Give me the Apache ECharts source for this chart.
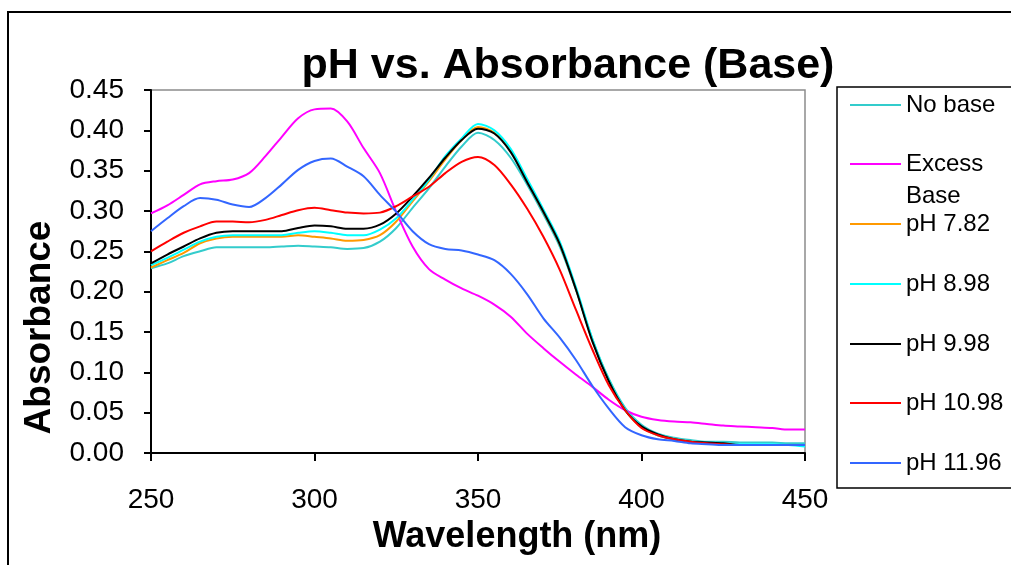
<!DOCTYPE html>
<html>
<head>
<meta charset="utf-8">
<title>pH vs. Absorbance (Base)</title>
<script src="https://cdn.jsdelivr.net/npm/echarts@6/dist/echarts.min.js"></script>
<style>
  html, body { margin: 0; padding: 0; background: #fff; }
  #chart { width: 1011px; height: 565px; }
</style>
</head>
<body>
<div id="chart"></div>
<script>
// wavelength (nm), every 5 nm
var wavelengths = [250, 255, 260, 265, 270, 275, 280, 285, 290, 295, 300, 305, 310, 315, 320, 325, 330, 335, 340, 345,
  350, 355, 360, 365, 370, 375, 380, 385, 390, 395, 400, 405, 410, 415, 420, 425, 430, 435, 440, 445, 450];

var seriesNames = ['No base', 'Excess Base', 'pH 7.82', 'pH 8.98', 'pH 9.98', 'pH 10.98', 'pH 11.96'];

var noBase = [0.229, 0.235, 0.244, 0.250, 0.255, 0.255, 0.255, 0.255, 0.256, 0.257, 0.256, 0.255, 0.253, 0.254, 0.262, 0.279, 0.304, 0.328, 0.355, 0.380,
  0.397, 0.388, 0.366, 0.333, 0.296, 0.256, 0.202, 0.141, 0.092, 0.056, 0.035, 0.024, 0.019, 0.016, 0.014, 0.014, 0.013, 0.013, 0.013, 0.012, 0.012];
var excessBase = [0.297, 0.307, 0.320, 0.333, 0.337, 0.339, 0.347, 0.368, 0.392, 0.415, 0.426, 0.427, 0.411, 0.378, 0.347, 0.299, 0.256, 0.228, 0.215, 0.204,
  0.195, 0.184, 0.169, 0.148, 0.130, 0.113, 0.097, 0.082, 0.066, 0.053, 0.045, 0.041, 0.039, 0.038, 0.036, 0.034, 0.033, 0.032, 0.031, 0.029, 0.029];
var ph782 = [0.230, 0.239, 0.248, 0.260, 0.266, 0.268, 0.268, 0.268, 0.268, 0.270, 0.268, 0.266, 0.263, 0.264, 0.270, 0.287, 0.312, 0.337, 0.364, 0.388,
  0.404, 0.397, 0.374, 0.337, 0.299, 0.259, 0.203, 0.139, 0.090, 0.053, 0.032, 0.022, 0.017, 0.014, 0.012, 0.011, 0.010, 0.010, 0.010, 0.010, 0.010];
var ph898 = [0.233, 0.242, 0.252, 0.262, 0.268, 0.270, 0.270, 0.270, 0.270, 0.273, 0.275, 0.273, 0.270, 0.270, 0.277, 0.291, 0.314, 0.339, 0.368, 0.390,
  0.408, 0.400, 0.377, 0.340, 0.302, 0.262, 0.205, 0.141, 0.091, 0.054, 0.033, 0.022, 0.017, 0.014, 0.013, 0.012, 0.011, 0.011, 0.011, 0.010, 0.008];
var ph998 = [0.235, 0.246, 0.256, 0.266, 0.273, 0.275, 0.275, 0.275, 0.275, 0.279, 0.282, 0.281, 0.278, 0.278, 0.283, 0.297, 0.318, 0.341, 0.366, 0.388,
  0.402, 0.396, 0.373, 0.336, 0.299, 0.259, 0.202, 0.138, 0.089, 0.053, 0.033, 0.023, 0.017, 0.014, 0.013, 0.012, 0.010, 0.010, 0.010, 0.010, 0.010];
var ph1098 = [0.250, 0.262, 0.273, 0.281, 0.287, 0.287, 0.286, 0.289, 0.295, 0.301, 0.304, 0.301, 0.298, 0.297, 0.298, 0.306, 0.318, 0.330, 0.347, 0.361,
  0.367, 0.357, 0.333, 0.303, 0.268, 0.227, 0.177, 0.128, 0.084, 0.053, 0.031, 0.022, 0.017, 0.014, 0.012, 0.011, 0.010, 0.010, 0.010, 0.010, 0.010];
var ph1196 = [0.275, 0.291, 0.306, 0.316, 0.314, 0.308, 0.305, 0.316, 0.333, 0.351, 0.362, 0.365, 0.355, 0.343, 0.320, 0.299, 0.275, 0.259, 0.253, 0.251,
  0.246, 0.239, 0.222, 0.197, 0.167, 0.143, 0.115, 0.083, 0.055, 0.032, 0.022, 0.017, 0.015, 0.012, 0.011, 0.010, 0.010, 0.010, 0.010, 0.010, 0.010];

var seriesValues = [noBase, excessBase, ph782, ph898, ph998, ph1098, ph1196];
var seriesColors = ['#33CCCC', '#FF00FF', '#FF9900', '#00FFFF', '#000000', '#FF0000', '#3366FF'];

var yTicks = { min: 0, max: 0.45, step: 0.05 };
var xTicks = { min: 250, max: 450, step: 50 };

var font = "'Liberation Sans', Arial, sans-serif";

function pairs(values) {
  return wavelengths.map(function (w, i) { return [w, values[i]]; });
}

var series = seriesNames.map(function (name, i) {
  return {
    name: name,
    type: 'line',
    data: pairs(seriesValues[i]),
    symbol: 'none',
    smooth: 0.3,
    lineStyle: { color: seriesColors[i], width: 2 },
    itemStyle: { color: seriesColors[i] }
  };
});

// one legend per entry so the spacing matches the original box
var legendTops = [93, 152, 212, 272, 332, 391, 451];
var legends = seriesNames.map(function (name, i) {
  return {
    data: [name],
    left: 850,
    top: legendTops[i],
    padding: 0,
    icon: 'rect',
    itemWidth: 51,
    itemHeight: 2,
    selectedMode: false,
    formatter: function (n) { return n === 'Excess Base' ? 'Excess' : n; },
    textStyle: { fontFamily: font, fontSize: 24, color: '#000', lineHeight: 24 }
  };
});

var chart = echarts.init(document.getElementById('chart'));
chart.setOption({
  animation: false,
  backgroundColor: '#fff',
  title: {
    text: 'pH vs. Absorbance (Base)',
    left: 563,
    top: 40,
    textAlign: 'center',
    textStyle: { fontFamily: font, fontWeight: 'bold', fontSize: 43, color: '#000' }
  },
  legend: legends,
  grid: {
    left: 151, right: 206, top: 90, bottom: 112,
    show: true, borderColor: '#8c8c8c', borderWidth: 1.5, backgroundColor: '#fff'
  },
  xAxis: {
    type: 'value',
    min: xTicks.min, max: xTicks.max, interval: xTicks.step,
    name: 'Wavelength (nm)',
    nameLocation: 'middle',
    nameGap: 58,
    nameTextStyle: { fontFamily: font, fontWeight: 'bold', fontSize: 36, color: '#000', padding: [0, 0, 0, 78] },
    axisLine: { show: true, lineStyle: { color: '#000', width: 2 } },
    axisTick: { show: true, inside: false, length: 8, lineStyle: { color: '#000', width: 2 } },
    axisLabel: { fontFamily: font, fontSize: 28, color: '#000', margin: 33 },
    splitLine: { show: false }
  },
  yAxis: {
    type: 'value',
    min: yTicks.min, max: yTicks.max, interval: yTicks.step,
    name: 'Absorbance',
    nameLocation: 'middle',
    nameGap: 88,
    nameTextStyle: { fontFamily: font, fontWeight: 'bold', fontSize: 37, color: '#000', padding: [0, 112, 0, 0] },
    axisLine: { show: true, lineStyle: { color: '#000', width: 2 } },
    axisTick: { show: true, inside: false, length: 7, lineStyle: { color: '#000', width: 2 } },
    axisLabel: {
      fontFamily: font, fontSize: 28, color: '#000', margin: 27,
      formatter: function (v) { return v.toFixed(2); }
    },
    splitLine: { show: false }
  },
  graphic: [
    { type: 'rect', shape: { x: 8, y: 12, width: 1100, height: 700 }, style: { fill: 'none', stroke: '#000', lineWidth: 2 }, z: -1 },
    { type: 'rect', shape: { x: 837, y: 87, width: 200, height: 401 }, style: { fill: 'none', stroke: '#000', lineWidth: 1.5 } },
    { type: 'text', x: 906, y: 196, style: { text: 'Base', font: '24px ' + font, fill: '#000', verticalAlign: 'middle' } }
  ],
  series: series
});
</script>
</body>
</html>
